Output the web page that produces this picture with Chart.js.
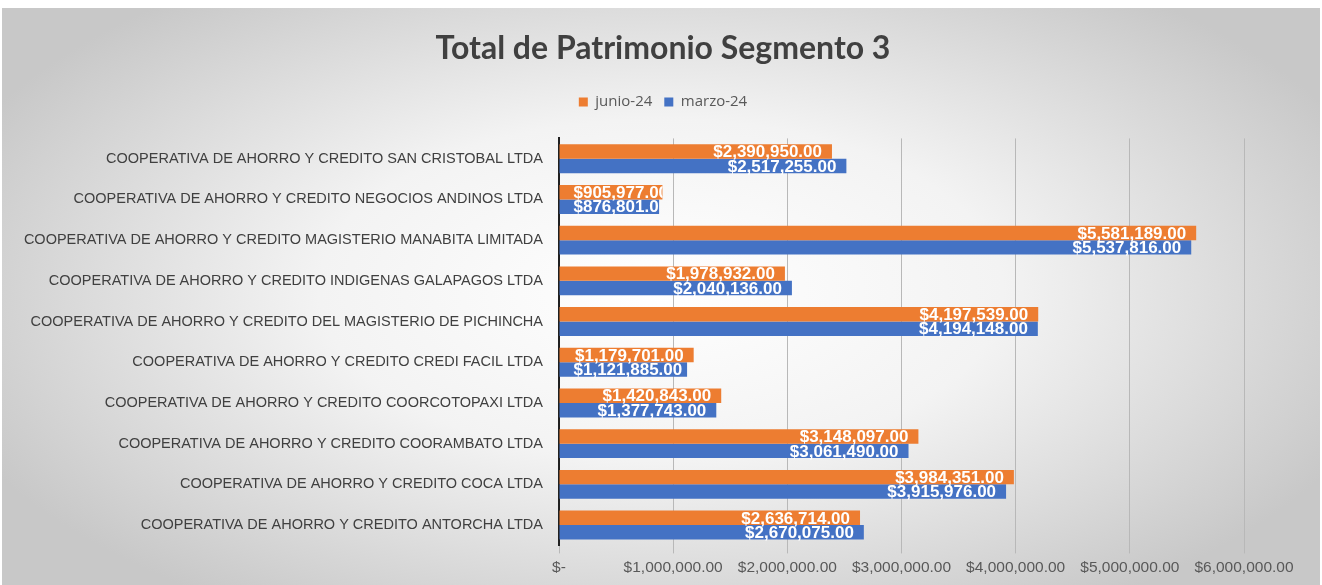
<!DOCTYPE html>
<html>
<head>
<meta charset="utf-8">
<script src="https://cdn.jsdelivr.net/npm/chart.js@4.4.1/dist/chart.umd.min.js"></script>
<style>
  html, body { margin: 0; padding: 0; background: #ffffff; }
  #wrap { width: 1322px; height: 585px; }
</style>
</head>
<body>
<div id="wrap"><canvas id="patrimonioChart" width="1322" height="585"></canvas></div>
<script>
const categories = [
    "COOPERATIVA DE AHORRO Y CREDITO SAN CRISTOBAL LTDA",
    "COOPERATIVA DE AHORRO Y CREDITO NEGOCIOS ANDINOS LTDA",
    "COOPERATIVA DE AHORRO Y CREDITO MAGISTERIO MANABITA LIMITADA",
    "COOPERATIVA DE AHORRO Y CREDITO INDIGENAS GALAPAGOS LTDA",
    "COOPERATIVA DE AHORRO Y CREDITO DEL MAGISTERIO DE PICHINCHA",
    "COOPERATIVA DE AHORRO Y CREDITO CREDI FACIL LTDA",
    "COOPERATIVA DE AHORRO Y CREDITO COORCOTOPAXI LTDA",
    "COOPERATIVA DE AHORRO Y CREDITO COORAMBATO LTDA",
    "COOPERATIVA DE AHORRO Y CREDITO COCA LTDA",
    "COOPERATIVA DE AHORRO Y CREDITO ANTORCHA LTDA",
];
const junio24 = [2390950, 905977, 5581189, 1978932, 4197539, 1179701, 1420843, 3148097, 3984351, 2636714];
const marzo24 = [2517255, 876801, 5537816, 2040136, 4194148, 1121885, 1377743, 3061490, 3915976, 2670075];
const xTicks = [0, 1000000, 2000000, 3000000, 4000000, 5000000, 6000000];

const money = (v) => v === 0 ? "$-" : "$" + v.toLocaleString("en-US", { minimumFractionDigits: 2, maximumFractionDigits: 2 });

// gray radial backdrop like the Excel chart style
const backdrop = {
    id: "backdrop",
    beforeDraw(chart) {
        const c = chart.ctx;
        const w = chart.width, h = chart.height;
        c.save();
        c.fillStyle = "#ffffff";
        c.fillRect(0, 0, w, h);
        c.translate(w / 2, 290);
        c.scale(1, 0.5);
        const g = c.createRadialGradient(0, 0, 0, 0, 0, 760);
        g.addColorStop(0, "#ffffff");
        g.addColorStop(0.45, "#f3f3f3");
        g.addColorStop(1, "#c8c8c8");
        c.fillStyle = g;
        c.fillRect(-w / 2 + 2, (8 - 290) * 2, w - 4, (h - 8) * 2);
        c.restore();
    },
};

// extra room under the legend, and centre title + legend on the whole canvas
const headerFix = {
    id: "headerFix",
    beforeInit(chart) {
        const fit = chart.legend.fit;
        chart.legend.fit = function () {
            fit.call(this);
            this.height += 19;
        };
    },
    afterLayout(chart) {
        const d = 36;
        [chart.titleBlock, chart.legend].forEach((b) => {
            if (b) { b.left += d; b.right += d; }
        });
    },
};

// value labels inside the end of each bar, clipped to the bar end
const barLabels = {
    id: "barLabels",
    afterDatasetsDraw(chart) {
        const c = chart.ctx;
        c.save();
        c.font = "bold 17px 'Liberation Sans', Arial, sans-serif";
        c.fillStyle = "#ffffff";
        c.textBaseline = "middle";
        chart.data.datasets.forEach((ds, di) => {
            chart.getDatasetMeta(di).data.forEach((bar, i) => {
                const txt = money(ds.data[i]);
                const tw = c.measureText(txt).width;
                const x = Math.max(bar.x - 10 - tw, bar.base + 14);
                c.save();
                c.beginPath();
                c.rect(bar.base, bar.y - bar.height, bar.x - bar.base, bar.height * 2);
                c.clip();
                c.fillText(txt, x, bar.y + 1);
                c.restore();
            });
        });
        c.restore();
    },
};

const ctx = document.getElementById("patrimonioChart").getContext("2d");
const chart = new Chart(ctx, {
    type: "bar",
    data: {
        labels: categories,
        datasets: [
            {
                label: "junio-24",
                data: junio24,
                backgroundColor: "#ED7D31",
                barPercentage: 1.0,
                categoryPercentage: 0.71,
            },
            {
                label: "marzo-24",
                data: marzo24,
                backgroundColor: "#4472C4",
                barPercentage: 1.0,
                categoryPercentage: 0.71,
            },
        ],
    },
    options: {
        indexAxis: "y",
        responsive: false,
        animation: false,
        layout: { padding: { left: 10, right: 78, top: 9, bottom: 3 } },
        plugins: {
            title: {
                display: true,
                text: "Total de Patrimonio Segmento 3",
                color: "#404040",
                font: { family: "Lato, sans-serif", size: 32, weight: "bold" },
                padding: { top: 20, bottom: 15 },
            },
            legend: {
                display: true,
                labels: {
                    boxWidth: 9,
                    boxHeight: 9,
                    color: "#595959",
                    font: { family: "'Open Sans', sans-serif", size: 15 },
                    padding: 12,
                },
            },
            tooltip: { enabled: false },
        },
        scales: {
            x: {
                min: 0,
                max: 6000000,
                afterBuildTicks: (axis) => { axis.ticks = xTicks.map((v) => ({ value: v })); },
                ticks: {
                    color: "#595959",
                    font: { family: "'Liberation Sans', Arial, sans-serif", size: 15.5 },
                    callback: (v) => money(v),
                    maxRotation: 0,
                    padding: 5,
                },
                grid: { color: "#b8b8b8", lineWidth: 1, tickLength: 8, drawTicks: true },
                border: { display: false },
            },
            y: {
                afterFit: (axis) => { axis.width = 549; },
                ticks: {
                    color: "#404040",
                    font: { family: "'Liberation Sans', Arial, sans-serif", size: 14.5 },
                    padding: 8,
                },
                grid: { display: false },
                border: { display: true, color: "#202020", width: 2 },
            },
        },
    },
    plugins: [backdrop, headerFix, barLabels],
});
</script>
</body>
</html>
